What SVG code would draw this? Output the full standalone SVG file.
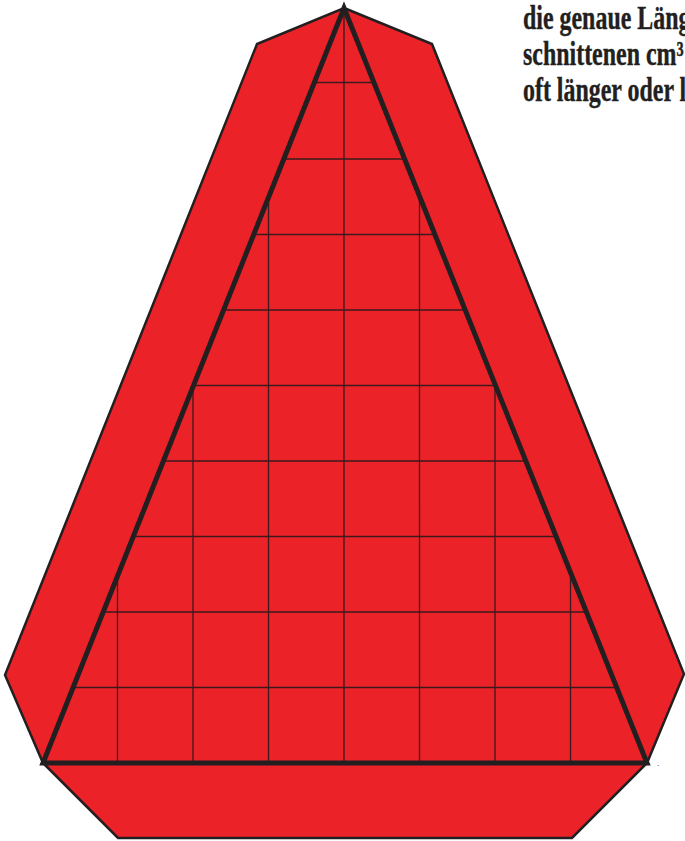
<svg xmlns="http://www.w3.org/2000/svg" width="685" height="841" viewBox="0 0 685 841">
<style>
.outer{fill:#ec2229;stroke:#231f20;stroke-width:2.5;stroke-linejoin:miter}
.tri{fill:none;stroke:#231f20;stroke-width:5;stroke-linejoin:miter}
.grid{stroke:#3a1a1c;stroke-width:1.3;fill:none}
.txt{font-family:"Liberation Serif","Times New Roman",serif;font-weight:bold;font-size:33px;fill:#231f20;stroke:#231f20;stroke-width:0.4}
</style>
<defs>
<clipPath id="triClip"><polygon points="43,763 344,8 647,763"/></clipPath>
</defs>
<g id="shield">
<polygon class="outer" points="344,8 432,44 684,674 647,763 572,838 118,838 43,763 5,675 257,44"/>
</g>
<g id="grid" clip-path="url(#triClip)">
<path class="grid" d="M117.5,0V763M193,0V763M268.5,0V763M344,0V763M419.5,0V763M495,0V763M570.5,0V763"/>
<path class="grid" d="M0,687.5H685M0,612H685M0,536.5H685M0,461H685M0,385.5H685M0,310H685M0,234.5H685M0,159H685M0,82.5H685"/>
</g>
<g id="triangle">
<polygon class="tri" points="43,763 344,8 647,763"/>
</g>
<g id="text" transform="matrix(0.725 0 0 1 523 0)">
<text class="txt" x="0" y="29">die genaue Läng</text>
<text class="txt" x="0" y="65">schnittenen cm³</text>
<text class="txt" x="0" y="101">oft länger oder l</text>
</g>
<text x="657" y="766" style="font-family:'Liberation Serif',serif;font-size:9px;fill:#231f20">.</text>
</svg>
